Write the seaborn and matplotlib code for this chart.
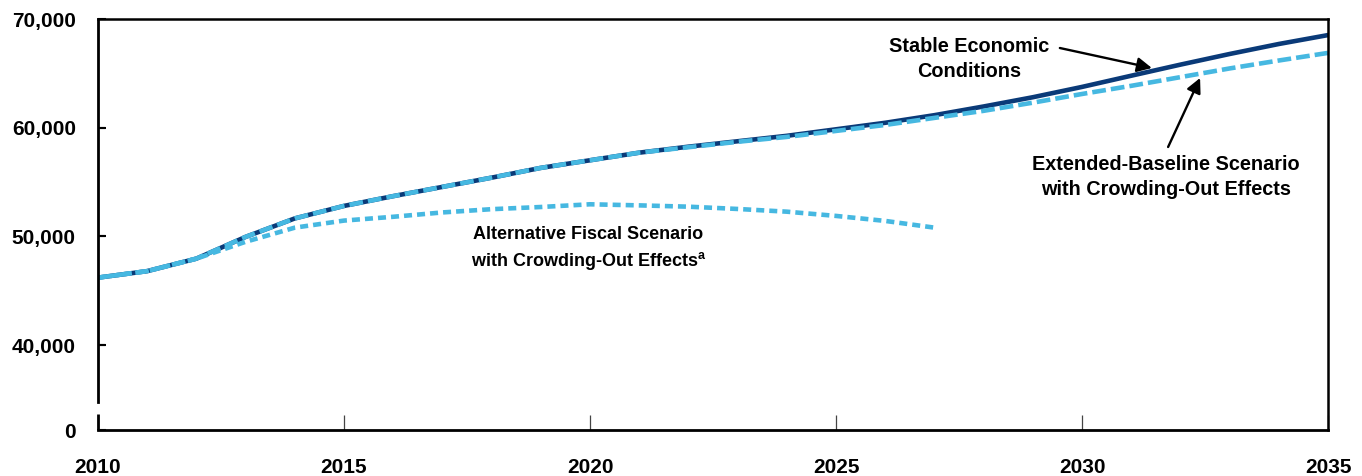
import matplotlib
matplotlib.use("Agg")
import matplotlib.pyplot as plt
import seaborn as sns
import pandas as pd

# ---- data ----
years = list(range(2010, 2036))
stable = [46200, 46800, 47950, 49950, 51650, 52800, 53700, 54550, 55400, 56300,
          57000, 57700, 58250, 58750, 59250, 59850, 60450, 61150, 61950, 62800,
          63750, 64780, 65800, 66780, 67700, 68520]
extended = [46200, 46800, 47950, 49950, 51650, 52800, 53700, 54550, 55400, 56300,
            57000, 57700, 58200, 58700, 59150, 59700, 60250, 60900, 61550, 62300,
            63100, 63850, 64650, 65450, 66180, 66880]
alt_years = list(range(2010, 2028))
alternative = [46200, 46800, 47950, 49500, 50800, 51450, 51800, 52200, 52500, 52700,
               52950, 52850, 52730, 52520, 52270, 51880, 51420, 50800]

ytick_vals = [32180, 40000, 50000, 60000, 70000]
ytick_labels = ["0", "40,000", "50,000", "60,000", "70,000"]
xtick_vals = [2010, 2015, 2020, 2025, 2030, 2035]
xtick_labels = ["2010", "2015", "2020", "2025", "2030", "2035"]

NAVY = "#0a3a78"
LIGHT = "#46b8e1"

sns.set_style("white", {"ytick.left": True, "xtick.bottom": True})
plt.rcParams["font.family"] = ["Liberation Sans", "DejaVu Sans"]
plt.rcParams["font.weight"] = "bold"
plt.rcParams["text.color"] = "black"
plt.rcParams["mathtext.fontset"] = "custom"
plt.rcParams["mathtext.rm"] = "Liberation Sans:bold"

fig = plt.figure(figsize=(13.62, 4.76), dpi=100)
ax = fig.add_axes([98 / 1362, 1 - 430 / 476, (1328 - 98) / 1362, (430 - 19) / 476])

df_main = pd.DataFrame({"year": years, "stable": stable, "extended": extended})
df_alt = pd.DataFrame({"year": alt_years, "alternative": alternative})

LW = 3.3
sns.lineplot(data=df_main, x="year", y="stable", ax=ax, color=NAVY, linewidth=LW)
sns.lineplot(data=df_main, x="year", y="extended", ax=ax, color=LIGHT, linewidth=LW,
             linestyle=(0, (3.0, 1.1)))
sns.lineplot(data=df_alt, x="year", y="alternative", ax=ax, color=LIGHT, linewidth=LW,
             linestyle=(0, (1.75, 1.1)))

ax.set_xlim(2010, 2035)
ax.set_ylim(32180, 70000)
ax.set_xlabel("")
ax.set_ylabel("")
ax.set_yticks(ytick_vals)
ax.set_yticklabels(ytick_labels, fontsize=15, fontweight="bold", color="black")
ax.set_xticks(xtick_vals)
ax.set_xticklabels(xtick_labels, fontsize=15, fontweight="bold", color="black")
ax.tick_params(axis="y", which="major", left=True, direction="in", length=6,
               width=1.5, color="black", pad=16)
ax.tick_params(axis="x", which="major", bottom=True, direction="in", length=11,
               width=0.9, color="#444444", pad=20)
# make the inward y tick marks clearly visible (drawn at the labelled gridline values)
ax.hlines(ytick_vals[1:4], 0, 7 / 1230, transform=ax.get_yaxis_transform(),
          colors="black", linewidth=1.5, zorder=5)

for s in ["top", "right", "bottom", "left"]:
    ax.spines[s].set_visible(True)
    ax.spines[s].set_color("black")
    ax.spines[s].set_linewidth(1.8)
ax.spines["bottom"].set_linewidth(2.0)
ax.spines["left"].set_linewidth(2.0)
# broken left axis: main spine stops above the break, short stub below it
ax.spines["left"].set_bounds(34760, 70000)
ax.plot([0, 0], [0.0, 0.039], transform=ax.transAxes, color="black", lw=2.0,
        clip_on=False, solid_capstyle="butt")

# annotations
ax.text(2027.70, 66319, "Stable Economic\nConditions", ha="center", va="center",
        fontsize=14.3, fontweight="bold", linespacing=1.35)
ax.annotate("", xy=(2031.42, 65491), xytext=(2029.55, 67331),
            arrowprops=dict(arrowstyle="-|>", mutation_scale=22, lw=1.7, color="black",
                            shrinkA=0, shrinkB=0))
ax.text(2031.71, 55461, "Extended-Baseline Scenario\nwith Crowding-Out Effects",
        ha="center", va="center", fontsize=14.3, fontweight="bold", linespacing=1.35)
ax.annotate("", xy=(2032.40, 64571), xytext=(2031.75, 58222),
            arrowprops=dict(arrowstyle="-|>", mutation_scale=22, lw=1.7, color="black",
                            shrinkA=0, shrinkB=0))
ax.text(2019.97, 48835, "Alternative Fiscal Scenario\nwith Crowding-Out Effects$^{\\rm a}$",
        ha="center", va="center", fontsize=13, fontweight="bold", linespacing=1.45,
        multialignment="center")

fig.savefig("out.png", dpi=100)
